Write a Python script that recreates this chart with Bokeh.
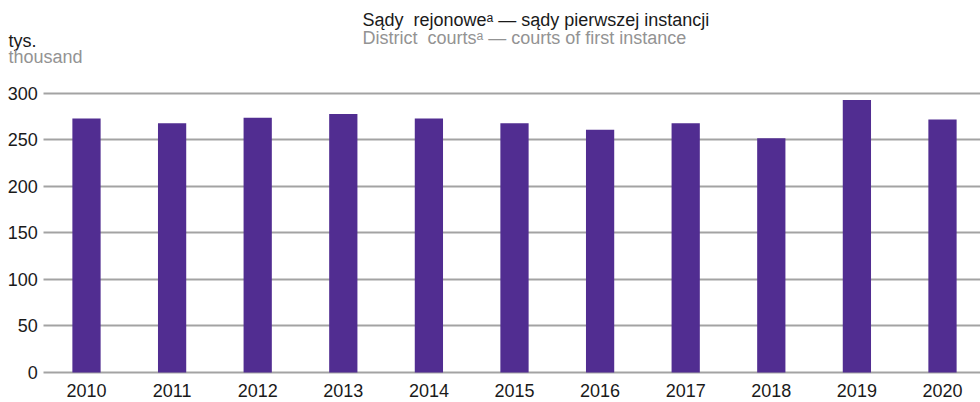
from bokeh.plotting import figure
from bokeh.models import Range1d, FixedTicker, Label, LinearAxis, Grid
from bokeh.embed import file_html
from bokeh.resources import INLINE

years = [2010, 2011, 2012, 2013, 2014, 2015, 2016, 2017, 2018, 2019, 2020]
cases = [273, 268, 274, 278, 273, 268, 261, 268, 252, 293, 272]
y_ticks = [0, 50, 100, 150, 200, 250, 300]
title_pl = "Sądy\u00a0 rejonoweᵃ — sądy pierwszej instancji"
title_en = "District\u00a0 courtsᵃ — courts of first instance"
unit_pl = "tys."
unit_en = "thousand"

FONT = "Liberation Sans"
BAR = "#512D91"
GRID = "#a3a3a3"
DARK = "#1a1a1a"
GREY = "#939393"

X0, X1 = 2008.9953, 2020.444
AXIS_X = 2009.5

p = figure(width=980, height=402, output_backend="svg", toolbar_location=None,
           x_range=Range1d(X0, X1), y_range=Range1d(-32.26, 400),
           min_border_left=0, min_border_right=0, min_border_top=0,
           min_border_bottom=0, x_axis_location=None, y_axis_location=None)
p.outline_line_color = None
p.background_fill_color = "white"
p.border_fill_color = "white"
for g in p.grid:
    g.visible = False

p.vbar(x=years, top=cases, width=0.33, fill_color=BAR, line_color=None)

yaxis = LinearAxis(ticker=FixedTicker(ticks=y_ticks), fixed_location=AXIS_X)
xaxis = LinearAxis(ticker=FixedTicker(ticks=years), fixed_location=0)
p.add_layout(yaxis, "left")
p.add_layout(xaxis, "below")

for ax in (xaxis, yaxis):
    ax.axis_line_color = None
    ax.major_tick_line_color = None
    ax.minor_tick_line_color = None
    ax.major_tick_out = 0
    ax.major_tick_in = 0
    ax.minor_tick_out = 0
    ax.minor_tick_in = 0
    ax.major_label_text_font = FONT
    ax.major_label_text_color = DARK
    ax.major_label_text_font_size = "18px"
yaxis.major_label_standoff = 6
xaxis.major_label_standoff = 12

ygrid = Grid(dimension=1, ticker=FixedTicker(ticks=y_ticks),
             grid_line_color=GRID, grid_line_width=2,
             cross_bounds=(AXIS_X, X1))
p.add_layout(ygrid)

def add_label(x, y, text, color):
    p.add_layout(Label(x=x, y=y, text=text,
                       text_font=FONT, text_font_size="18px", text_color=color,
                       text_baseline="alphabetic", text_align="left"))

add_label(2013.2243, 378.5, title_pl, DARK)
add_label(2013.2243, 360.2, title_en, GREY)
add_label(2009.0888, 356.4, unit_pl, DARK)
add_label(2009.0888, 339.3, unit_en, GREY)

open("out.html", "w").write(file_html(p, INLINE))
